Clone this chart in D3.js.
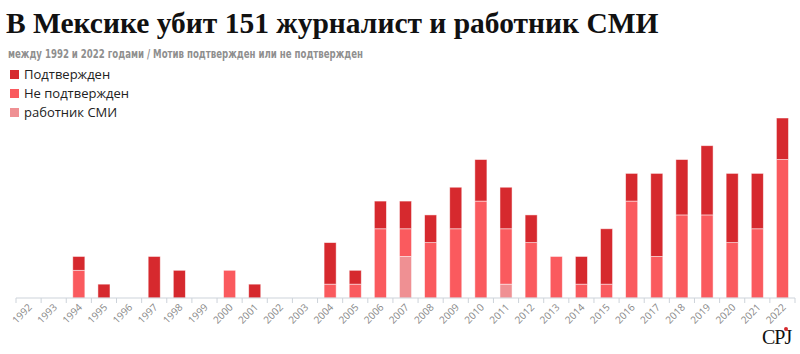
<!DOCTYPE html>
<html>
<head>
<meta charset="utf-8">
<script src="https://cdn.jsdelivr.net/npm/d3@7"></script>
<style>
  body { margin: 0; background: #fff; }
  svg { display: block; }
</style>
</head>
<body>
<div id="chart"></div>
<script>
// data
var years = ['1992','1993','1994','1995','1996','1997','1998','1999','2000','2001','2002','2003','2004','2005','2006','2007',
  '2008','2009','2010','2011','2012','2013','2014','2015','2016','2017','2018','2019','2020','2021','2022']
var mediaWorker = [0,0,0,0,0,0,0,0,0,0,0,0,0,0,0,3,0,0,0,1,0,0,0,0,0,0,0,0,0,0,0]
var notConfirmed = [0,0,2,0,0,0,0,0,2,0,0,0,1,1,5,2,4,5,7,4,4,3,1,1,7,3,6,6,4,5,10]
var confirmed = [0,0,1,1,0,3,2,0,0,1,0,0,3,1,2,2,2,3,3,3,2,0,2,4,2,6,4,5,5,4,3]

var seriesKeys = ['media', 'notConfirmed', 'confirmed']
var legendLabels = ['Подтвержден', 'Не подтвержден', 'работник СМИ']
var colors = { confirmed: '#d6292e', notConfirmed: '#fa5a5e', media: '#ef9093' }

var title = 'В Мексике убит 151 журналист и работник СМИ'
var subtitle = 'между 1992 и 2022 годами / Мотив подтвержден или не подтвержден'

var width = 800, height = 354
var svg = d3.select('#chart').append('svg')
  .attr('width', width)
  .attr('height', height)

// title + subtitle
svg.append('text')
  .attr('x', 6).attr('y', 33)
  .attr('font-family', 'Liberation Serif, DejaVu Serif, serif')
  .attr('font-weight', 'bold')
  .attr('font-size', 29.5)
  .attr('fill', '#111')
  .text(title)

svg.append('text')
  .attr('x', 8).attr('y', 58)
  .attr('font-family', 'Liberation Sans Narrow, DejaVu Sans Condensed, sans-serif')
  .attr('font-weight', 'bold')
  .attr('font-size', 12.5)
  .attr('fill', '#8f8f8f')
  .attr('textLength', 355)
  .attr('lengthAdjust', 'spacingAndGlyphs')
  .text(subtitle)

// legend
var legendOrder = ['confirmed', 'notConfirmed', 'media']
var legend = svg.append('g').selectAll('g')
  .data(legendOrder)
  .join('g')
  .attr('transform', function (d, i) { return 'translate(10,' + (70 + i * 19) + ')' })
legend.append('rect')
  .attr('width', 9).attr('height', 9)
  .attr('fill', function (d) { return colors[d] })
legend.append('text')
  .attr('x', 14).attr('y', 9)
  .attr('font-family', 'Open Sans, sans-serif')
  .attr('font-size', 13)
  .attr('fill', '#222')
  .text(function (d, i) { return legendLabels[i] })

// scales
var baseline = 298
var x = d3.scaleBand().domain(years).range([16, 795]).paddingInner(0.52).paddingOuter(0.26)
var y = d3.scaleLinear().domain([0, 13]).range([baseline, baseline - 180])

var table = years.map(function (yr, i) {
  return { year: yr, media: mediaWorker[i], notConfirmed: notConfirmed[i], confirmed: confirmed[i] }
})
var stacked = d3.stack().keys(seriesKeys)(table)

// bars
svg.append('g').selectAll('g')
  .data(stacked)
  .join('g')
  .attr('fill', function (d) { return colors[d.key] })
  .selectAll('rect')
  .data(function (d) { return d.filter(function (p) { return p[1] > p[0] }) })
  .join('rect')
  .attr('x', function (d) { return x(d.data.year) })
  .attr('width', x.bandwidth())
  .attr('y', function (d) { return y(d[1]) })
  .attr('height', function (d) { return y(d[0]) - y(d[1]) })
  .attr('stroke', '#fff')
  .attr('stroke-opacity', 0.6)
  .attr('stroke-width', 0.8)

// x axis with ticks between the bands
var axis = svg.append('g').attr('transform', 'translate(0,' + baseline + ')')
axis.append('line')
  .attr('x1', 16).attr('x2', 795)
  .attr('stroke', '#cdd3da')
axis.selectAll('.tk')
  .data(years.concat(['end']))
  .join('line')
  .attr('class', 'tk')
  .attr('x1', function (d, i) { return 16 + i * x.step() })
  .attr('x2', function (d, i) { return 16 + i * x.step() })
  .attr('y1', 0).attr('y2', 5)
  .attr('stroke', '#cdd3da')
axis.selectAll('.lbl')
  .data(years)
  .join('text')
  .attr('class', 'lbl')
  .attr('text-anchor', 'end')
  .attr('font-family', 'Open Sans, sans-serif')
  .attr('font-size', 10)
  .attr('fill', '#888')
  .attr('transform', function (d) {
    return 'translate(' + (x(d) + x.bandwidth() / 2 + 4) + ',10) rotate(-45)'
  })
  .text(function (d) { return d })

// CPJ logo
svg.append('text')
  .attr('x', 762).attr('y', 344)
  .attr('font-family', 'Liberation Serif, serif')
  .attr('font-size', 20)
  .attr('fill', '#111')
  .attr('letter-spacing', -1)
  .text('CPJ')
svg.append('circle')
  .attr('cx', 786).attr('cy', 329)
  .attr('r', 2)
  .attr('fill', '#d6292e')
</script>
</body>
</html>
